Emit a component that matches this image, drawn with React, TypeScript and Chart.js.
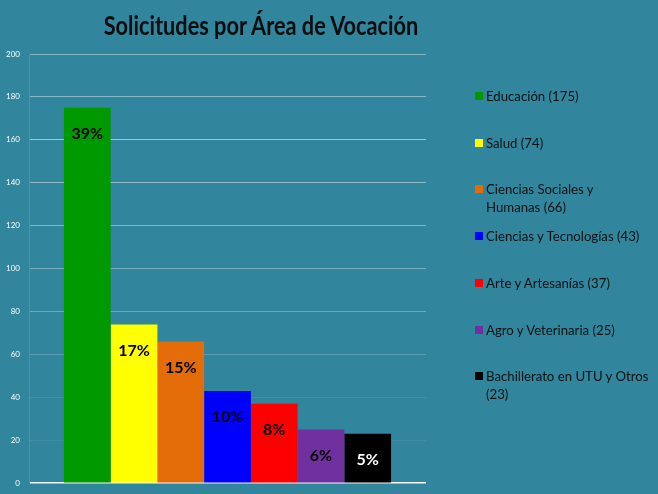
import React, { useEffect, useRef } from "react";
import { Chart, registerables } from "chart.js";
Chart.register(...registerables);

const categories = [
  "Educación",
  "Salud",
  "Ciencias Sociales y Humanas",
  "Ciencias y Tecnologías",
  "Arte y Artesanías",
  "Agro y Veterinaria",
  "Bachillerato en UTU y Otros",
];
const values = [175, 74, 66, 43, 37, 25, 23];
const legendLabels = [
  "Educación (175)",
  "Salud (74)",
  "Ciencias Sociales y\nHumanas (66)",
  "Ciencias y Tecnologías (43)",
  "Arte y Artesanías (37)",
  "Agro y Veterinaria (25)",
  "Bachillerato en UTU y Otros\n(23)",
];
const percentLabels = ["39%", "17%", "15%", "10%", "8%", "6%", "5%"];
const colors = ["#009900", "#FFFF00", "#E36C09", "#0000FF", "#FF0000", "#7030A0", "#000000"];
const labelColors = ["#000000", "#000000", "#000000", "#000000", "#000000", "#000000", "#FFFFFF"];
const yMin = 0;
const yMax = 200;
const yStep = 20;
const title = "Solicitudes por Área de Vocación";

const BG = "#31859C";

const gridAlpha: Record<number, number> = {
  0: 0.95, 20: 0.07, 40: 0.09, 60: 0.2, 80: 0.3, 100: 0.35, 120: 0.4, 140: 0.45, 160: 0.55, 180: 0.42, 200: 0.4,
};

const pctPlugin = {
  id: "pctLabels",
  afterDatasetsDraw(chart: any) {
    const ctx = chart.ctx;
    chart.data.datasets.forEach((_: any, i: number) => {
      const bar = chart.getDatasetMeta(i).data[0];
      if (!bar) return;
      ctx.save();
      ctx.font = "bold 16px Lato";
      ctx.fillStyle = labelColors[i];
      ctx.textAlign = "center";
      ctx.textBaseline = "middle";
      ctx.fillText(percentLabels[i], bar.x, bar.y + 26);
      ctx.restore();
    });
  },
};

export default function App() {
  const ref = useRef<HTMLCanvasElement>(null);
  useEffect(() => {
    if (!ref.current) return;
    const chart = new Chart(ref.current, {
      type: "bar",
      data: {
        labels: [""],
        datasets: categories.map((c, i) => ({
          label: `${c} (${values[i]})`,
          data: [values[i]],
          backgroundColor: colors[i],
          borderWidth: 0,
          categoryPercentage: 0.824,
          barPercentage: 1,
        })),
      },
      options: {
        animation: false,
        responsive: false,
        maintainAspectRatio: false,
        layout: { padding: { top: 54, right: 232, bottom: 0, left: 0 } },
        plugins: { legend: { display: false }, title: { display: false }, tooltip: { enabled: false } },
        scales: {
          x: { display: false },
          y: {
            min: yMin,
            max: yMax,
            ticks: {
              stepSize: yStep,
              color: "#FFFFFF",
              font: { family: "Lato", size: 8 },
              padding: 9,
            },
            grid: {
              drawTicks: false,
              lineWidth: (c: any) => (c.tick && c.tick.value === 0 ? 1.5 : 1),
              color: (c: any) => {
                const v = c.tick ? c.tick.value : 0;
                const a = gridAlpha[v] ?? 0.3;
                return `rgba(255,255,255,${a})`;
              },
            },
            border: { display: true, color: "rgba(255,255,255,0.12)" },
            afterFit: (s: any) => {
              s.width = 29;
            },
          },
        },
      },
      plugins: [pctPlugin],
    });
    return () => chart.destroy();
  }, []);

  return (
    <div style={{ position: "fixed", left: 0, top: 0, width: 658, height: 494, background: BG, overflow: "hidden" }}>
      <canvas ref={ref} width={658} height={497} style={{ position: "absolute", left: 0, top: 0 }} />
      <div
        style={{
          position: "absolute",
          left: 61,
          top: 8,
          width: 400,
          textAlign: "center",
          fontFamily: "Lato",
          fontWeight: 700,
          fontSize: 27.5,
          color: "#0D0D0D",
          whiteSpace: "nowrap",
          lineHeight: "34px",
          transform: "scaleX(0.79)",
          transformOrigin: "center",
        }}
      >
        {title}
      </div>
      {legendLabels.map((t, i) => (
        <div
          key={t}
          style={{
            position: "absolute",
            left: 475,
            top: 87 + i * 46.7,
            width: 180,
            fontFamily: "Lato",
            fontSize: 13.2,
            lineHeight: "18px",
            color: "#111111",
            display: "flex",
            alignItems: "flex-start",
            whiteSpace: "pre",
          }}
        >
          <span style={{ display: "inline-block", width: 8, height: 8, background: colors[i], marginTop: 5, marginRight: 3, flex: "none" }} />
          <span>{t}</span>
        </div>
      ))}
    </div>
  );
}
